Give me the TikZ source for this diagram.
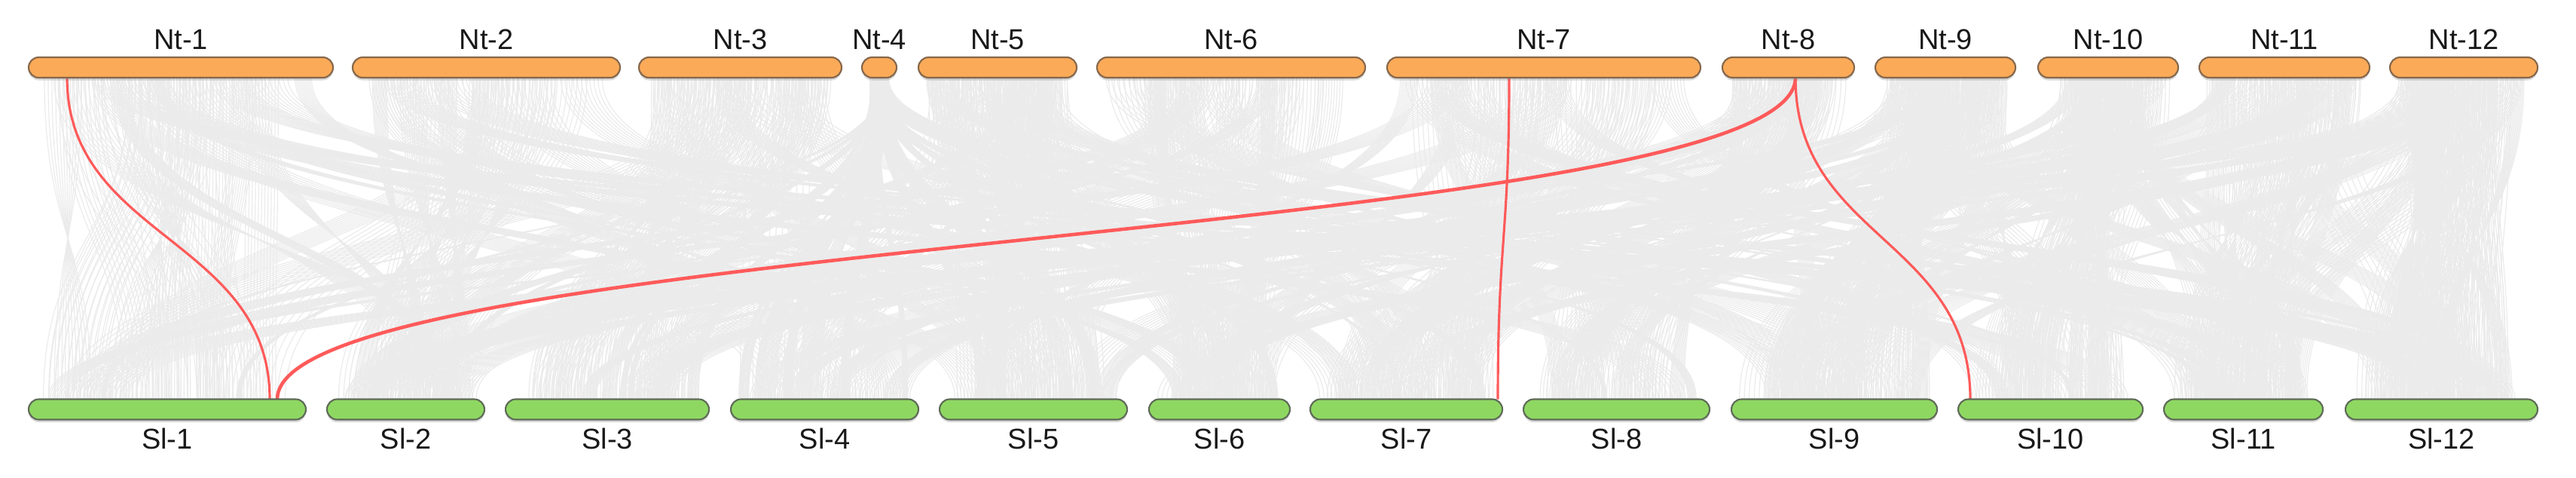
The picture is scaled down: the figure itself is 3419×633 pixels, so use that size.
\documentclass[tikz,border=0pt]{standalone}
\usepackage{fontspec}
\setmainfont{Liberation Sans}
\usetikzlibrary{calc,shadows}
\definecolor{linkgray}{HTML}{EBEBEB}
\definecolor{ntfill}{HTML}{FBAA58}
\definecolor{ntdraw}{HTML}{85674B}
\definecolor{slfill}{HTML}{8ED862}
\definecolor{sldraw}{HTML}{5E6A57}
\definecolor{synred}{HTML}{FF5A5A}
\pgfdeclarelayer{bg}
\pgfsetlayers{bg,main}
\begin{document}
\begin{tikzpicture}[x=0.01cm,y=-0.01cm,
  chrom/.style={rectangle, rounded corners=0.135cm, inner sep=0pt, outer sep=0pt,
    minimum height=0.27cm, line width=0.6pt},
  ntbar/.style={chrom, fill=ntfill, draw=ntdraw,
    drop shadow={shadow xshift=0cm, shadow yshift=-0.035cm, opacity=0.3}},
  slbar/.style={chrom, fill=slfill, draw=sldraw,
    drop shadow={shadow xshift=0cm, shadow yshift=-0.035cm, opacity=0.3}},
  lab/.style={font=\fontsize{10.8}{13}\selectfont, text=black!90, inner sep=0pt, anchor=base},
  link/.style={draw=linkgray, line width=0.34pt},
  syn/.style={draw=synred, line width=0.9pt},
  synthick/.style={draw=synred, line width=1.3pt}
]
\useasboundingbox (0,0) rectangle (3419,633);

% chromosome bars (top: Nt, bottom: Sl)
\foreach \n/\s/\l in {1/38/404,2/468/355,3/848/269,4/1144/46,5/1219/210,6/1456/356,
                      7/1841/416,8/2286/175,9/2489/186,10/2705/186,11/2919/226,12/3172/196}{
  \node[ntbar, minimum width=\l*0.01cm] (nt\n) at ({\s+\l/2},89.5) {};
  \node[lab] (lnt\n) at ($(nt\n.north)+(0,-10)$) {Nt-\n};
}
\foreach \n/\s/\l in {1/38/368,2/434/209,3/671/270,4/970/249,5/1247/249,6/1525/187,
                      7/1739/255,8/2022/247,9/2298/273,10/2599/245,11/2872/211,12/3113/255}{
  \node[slbar, minimum width=\l*0.01cm] (sl\n) at ({\s+\l/2},543) {};
  \node[lab] (lsl\n) at ($(sl\n.south)+(0,39)$) {Sl-\n};
}

\def\topS{{38,468,848,1144,1219,1456,1841,2286,2489,2705,2919,3172}}
\def\topL{{404,355,269,46,210,356,416,175,186,186,226,196}}
\def\botS{{38,434,671,970,1247,1525,1739,2022,2298,2599,2872,3113}}
\def\botL{{368,209,270,249,249,187,255,247,273,245,211,255}}

\begin{pgfonlayer}{bg}
% background collinear links
\pgfmathsetseed{2024}
\foreach \k in {1,...,340}{
  \pgfmathtruncatemacro{\ta}{random(0,11)}
  \pgfmathsetmacro{\pp}{rnd}
  \pgfmathtruncatemacro{\bq}{random(0,11)}
  \pgfmathtruncatemacro{\bn}{min(max(\ta+random(0,2)-1,0),11)}
  \pgfmathtruncatemacro{\bb}{\pp<0.35 ? \ta : (\pp<0.6 ? \bn : \bq)}
  \pgfmathsetmacro{\lt}{\topL[\ta]}
  \pgfmathsetmacro{\lb}{\botL[\bb]}
  \pgfmathsetmacro{\W}{(0.08+0.3*rnd)*min(\lt,\lb)}
  \pgfmathsetmacro{\ts}{\topS[\ta]+10+rnd*max(\lt-20-\W,0)}
  \pgfmathsetmacro{\bs}{\botS[\bb]+10+rnd*max(\lb-20-\W,0)}
  \pgfmathsetmacro{\rr}{rnd}
  \pgfmathtruncatemacro{\rv}{\rr<0.35 ? 1 : 0}
  \foreach \j in {0,...,10}{
    \pgfmathsetmacro{\xa}{\ts+\j*\W/10}
    \pgfmathsetmacro{\xb}{\rv==1 ? \bs+\W-\j*\W/10 : \bs+\j*\W/10}
    \draw[link] (\xa,104) .. controls (\xa,316) and (\xb,316) .. (\xb,528);
  }
}

% highlighted links
\path (nt1.south west) ++(51,0) coordinate (r1a);
\path (sl1.north west) ++(320,0) coordinate (r1b);
\path (sl1.north west) ++(330,0) coordinate (r2a);
\path (nt8.south west) ++(97,0) coordinate (r2b);
\path (nt7.south west) ++(162,0) coordinate (r3a);
\path (sl7.north west) ++(249,0) coordinate (r3b);
\path (sl10.north west) ++(16,0) coordinate (r4b);

\draw[syn] (r1a) .. controls ($(r1a)+(0,213)$) and ($(r1b)+(0,-213)$) .. (r1b);
\draw[synthick] (r2a) .. controls ($(r2a)+(0,-213)$) and ($(r2b)+(0,213)$) .. (r2b);
\draw[syn] (r3a) .. controls ($(r3a)+(0,213)$) and ($(r3b)+(0,-213)$) .. (r3b);
\draw[syn] (r2b) .. controls ($(r2b)+(0,213)$) and ($(r4b)+(0,-213)$) .. (r4b);
\end{pgfonlayer}
\end{tikzpicture}
\end{document}
